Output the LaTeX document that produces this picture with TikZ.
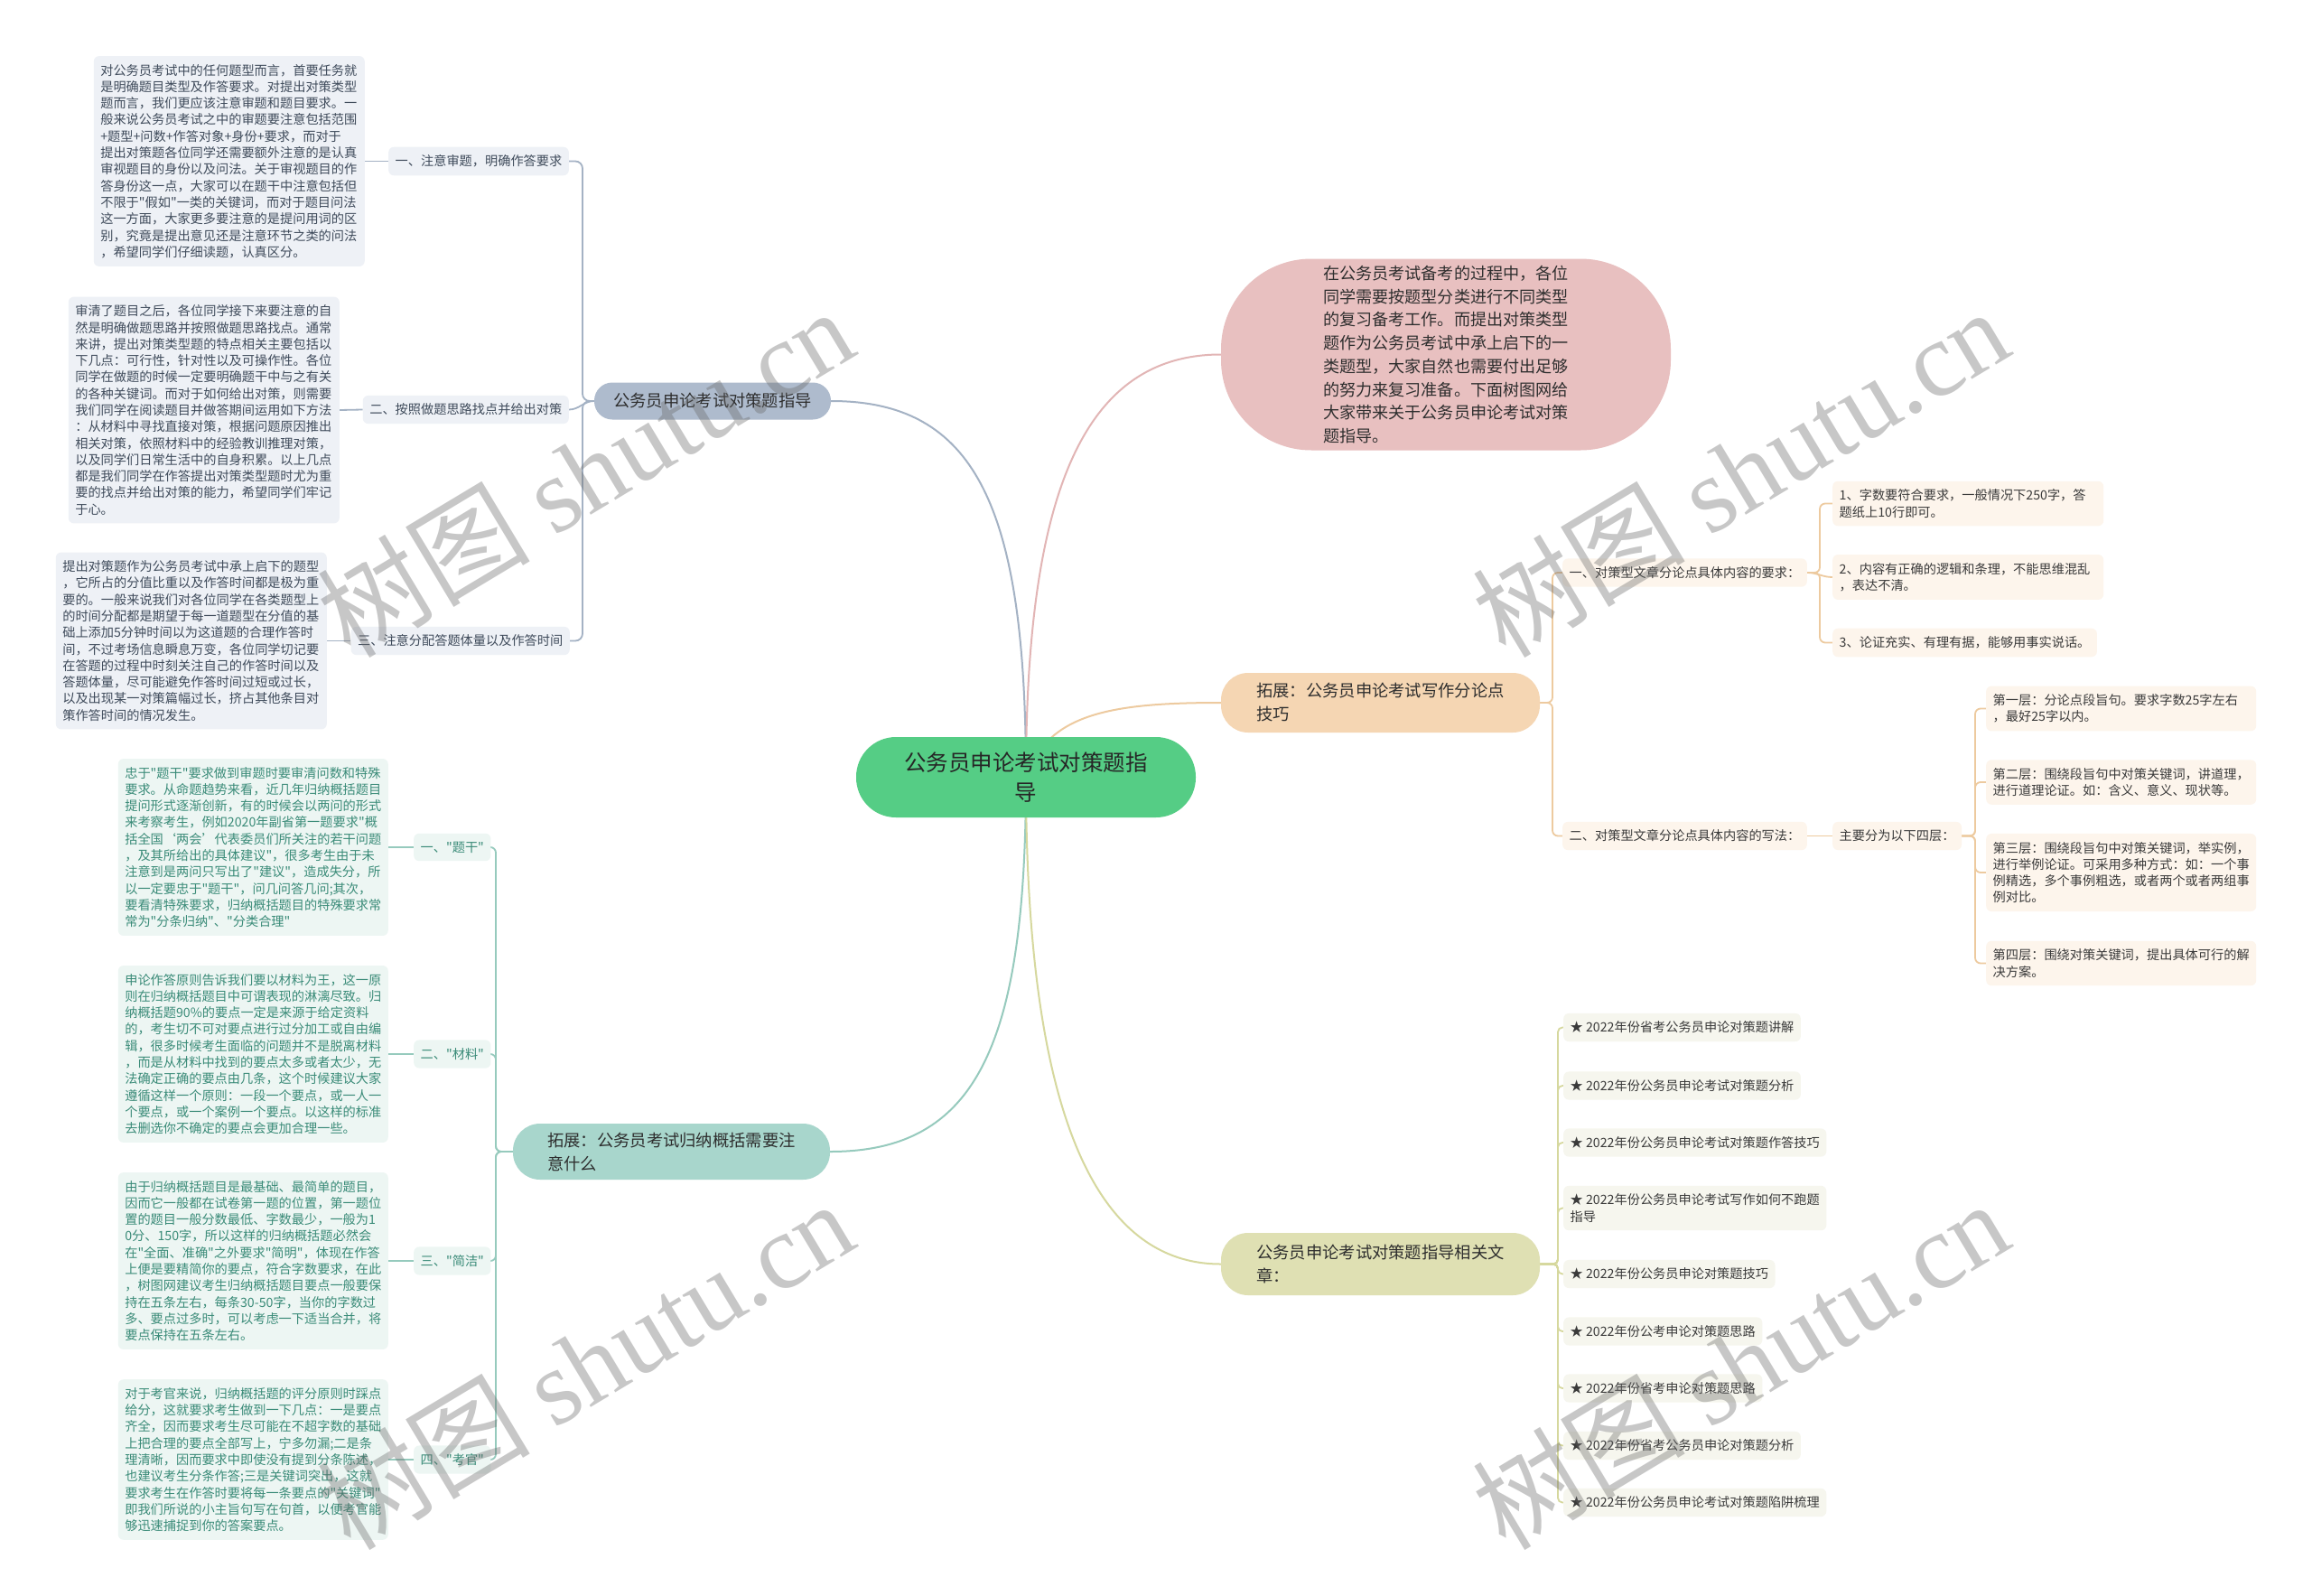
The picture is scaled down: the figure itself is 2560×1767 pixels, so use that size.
\documentclass[tikz,border=0pt]{standalone}
\usepackage{fontspec}
\setmainfont{Noto Sans CJK SC}[Ligatures=TeXOff]
\newfontfamily\wmserif{Liberation Serif}
\pgfdeclarelayer{bg}
\pgfsetlayers{bg,main}
\definecolor{ctrFill}{HTML}{55CD85}
\definecolor{gbMain}{HTML}{AEBBCD}
\definecolor{pinkMain}{HTML}{E8C0C0}
\definecolor{pcMain}{HTML}{F5D6B3}
\definecolor{olMain}{HTML}{DFE0B3}
\definecolor{tealMain}{HTML}{A8D6CC}
\definecolor{gbLine}{HTML}{A4B2C4}
\definecolor{pinkLine}{HTML}{E2B5B5}
\definecolor{pcLine}{HTML}{EDCA9F}
\definecolor{olLine}{HTML}{D6D89E}
\definecolor{tealLine}{HTML}{96CABD}
\definecolor{gbFill}{HTML}{EEF1F6}
\definecolor{gbText}{HTML}{3F4B5B}
\definecolor{tealFill}{HTML}{EDF6F3}
\definecolor{tealText}{HTML}{3A8B78}
\definecolor{pcFill}{HTML}{FDF5EC}
\definecolor{olFill}{HTML}{F6F6EE}
\definecolor{subText}{HTML}{3A3A3A}
\definecolor{mainText}{HTML}{2E2E2E}
\tikzset{
  sub/.style={rounded corners=6pt, inner xsep=7.5pt, inner ysep=9pt, align=left,
    font=\fontsize{14.2}{18.3}\selectfont},
  gbbox/.style={sub, fill=gbFill, text=gbText},
  tlbox/.style={sub, fill=tealFill, text=tealText},
  pcbox/.style={sub, fill=pcFill, text=subText},
  olbox/.style={sub, fill=olFill, text=subText},
  mainnode/.style={align=left, inner sep=0pt, text=mainText,
    font=\fontsize{18.3}{26}\selectfont},
  mline/.style={line width=2pt},
  gbl/.style={draw=gbLine, line width=1.8pt, rounded corners=8pt},
  tll/.style={draw=tealLine, line width=1.8pt, rounded corners=6pt},
  pcl/.style={draw=pcLine, line width=1.8pt, rounded corners=6pt},
  oll/.style={draw=olLine, line width=1.8pt, rounded corners=5pt},
  wm/.style={text=black!60, text opacity=0.36, inner sep=0pt,
    font=\fontsize{118}{118}\selectfont, rotate=31},
}
\begin{document}
\begin{tikzpicture}[x=1pt,y=-1pt]
\useasboundingbox (0,0) rectangle (2560,1767);

% ---------- main nodes ----------
\node[mainnode, fill=ctrFill, rounded corners=44pt, minimum width=376pt, minimum height=89pt,
  align=center, text=black!85, font=\fontsize{24.5}{33}\selectfont] (ctr) at (1136,860.5)
  {公务员申论考试对策题指\\导};
\node[mainnode, fill=gbMain, rounded corners=20pt, minimum width=262pt, minimum height=41pt]
  (m1) at (789,444) {公务员申论考试对策题指导};
\node[mainnode, fill=pinkMain, rounded corners=100pt, minimum width=498pt, minimum height=212pt,
  font=\fontsize{18.1}{25.7}\selectfont] (m2) at (1601,392.5)
  {在公务员考试备考的过程中，各位\\同学需要按题型分类进行不同类型\\的复习备考工作。而提出对策类型\\题作为公务员考试中承上启下的一\\类题型，大家自然也需要付出足够\\的努力来复习准备。下面树图网给\\大家带来关于公务员申论考试对策\\题指导。};
\node[mainnode, fill=pcMain, rounded corners=30pt, minimum width=353pt, minimum height=66pt]
  (m3) at (1528.5,778) {拓展：公务员申论考试写作分论点\\技巧};
\node[mainnode, fill=olMain, rounded corners=30pt, minimum width=353pt, minimum height=69pt]
  (m4) at (1528.5,1399.5) {公务员申论考试对策题指导相关文\\章：};
\node[mainnode, fill=tealMain, rounded corners=30pt, minimum width=351pt, minimum height=62pt]
  (m5) at (743.5,1275) {拓展：公务员考试归纳概括需要注\\意什么};

% ---------- left top ----------
\node[gbbox, text width=285pt, anchor=east] (t1) at (404,178.5)
  {对公务员考试中的任何题型而言，首要任务就\\是明确题目类型及作答要求。对提出对策类型\\题而言，我们更应该注意审题和题目要求。一\\般来说公务员考试之中的审题要注意包括范围\\+题型+问数+作答对象+身份+要求，而对于\\提出对策题各位同学还需要额外注意的是认真\\审视题目的身份以及问法。关于审视题目的作\\答身份这一点，大家可以在题干中注意包括但\\不限于"假如"一类的关键词，而对于题目问法\\这一方面，大家更多要注意的是提问用词的区\\别，究竟是提出意见还是注意环节之类的问法\\，希望同学们仔细读题，认真区分。};
\node[gbbox, anchor=east] (l1) at (630,178.5) {一、注意审题，明确作答要求};
\node[gbbox, text width=285pt, anchor=east] (t2) at (376,454)
  {审清了题目之后，各位同学接下来要注意的自\\然是明确做题思路并按照做题思路找点。通常\\来讲，提出对策类型题的特点相关主要包括以\\下几点：可行性，针对性以及可操作性。各位\\同学在做题的时候一定要明确题干中与之有关\\的各种关键词。而对于如何给出对策，则需要\\我们同学在阅读题目并做答期间运用如下方法\\：从材料中寻找直接对策，根据问题原因推出\\相关对策，依照材料中的经验教训推理对策，\\以及同学们日常生活中的自身积累。以上几点\\都是我们同学在作答提出对策类型题时尤为重\\要的找点并给出对策的能力，希望同学们牢记\\于心。};
\node[gbbox, anchor=east] (l2) at (630,453.5) {二、按照做题思路找点并给出对策};
\node[gbbox, text width=285pt, anchor=east] (t3) at (362,709.5)
  {提出对策题作为公务员考试中承上启下的题型\\，它所占的分值比重以及作答时间都是极为重\\要的。一般来说我们对各位同学在各类题型上\\的时间分配都是期望于每一道题型在分值的基\\础上添加5分钟时间以为这道题的合理作答时\\间，不过考场信息瞬息万变，各位同学切记要\\在答题的过程中时刻关注自己的作答时间以及\\答题体量，尽可能避免作答时间过短或过长，\\以及出现某一对策篇幅过长，挤占其他条目对\\策作答时间的情况发生。};
\node[gbbox, anchor=east] (l3) at (631,709.5) {三、注意分配答题体量以及作答时间};

% ---------- left bottom ----------
\node[tlbox, text width=284pt, anchor=east] (t4) at (430,938)
  {忠于"题干"要求做到审题时要审清问数和特殊\\要求。从命题趋势来看，近几年归纳概括题目\\提问形式逐渐创新，有的时候会以两问的形式\\来考察考生，例如2020年副省第一题要求"概\\括全国‘两会’代表委员们所关注的若干问题\\，及其所给出的具体建议"，很多考生由于未\\注意到是两问只写出了"建议"，造成失分，所\\以一定要忠于"题干"，问几问答几问;其次，\\要看清特殊要求，归纳概括题目的特殊要求常\\常为"分条归纳"、"分类合理"};
\node[tlbox, anchor=west] (l4) at (458,938) {一、"题干"};
\node[tlbox, text width=284pt, anchor=east] (t5) at (430,1167)
  {申论作答原则告诉我们要以材料为王，这一原\\则在归纳概括题目中可谓表现的淋漓尽致。归\\纳概括题90\%的要点一定是来源于给定资料\\的，考生切不可对要点进行过分加工或自由编\\辑，很多时候考生面临的问题并不是脱离材料\\，而是从材料中找到的要点太多或者太少，无\\法确定正确的要点由几条，这个时候建议大家\\遵循这样一个原则：一段一个要点，或一人一\\个要点，或一个案例一个要点。以这样的标准\\去删选你不确定的要点会更加合理一些。};
\node[tlbox, anchor=west] (l5) at (458,1167) {二、"材料"};
\node[tlbox, text width=284pt, anchor=east] (t6) at (430,1396)
  {由于归纳概括题目是最基础、最简单的题目，\\因而它一般都在试卷第一题的位置，第一题位\\置的题目一般分数最低、字数最少，一般为1\\0分、150字，所以这样的归纳概括题必然会\\在"全面、准确"之外要求"简明"，体现在作答\\上便是要精简你的要点，符合字数要求，在此\\，树图网建议考生归纳概括题目要点一般要保\\持在五条左右，每条30-50字，当你的字数过\\多、要点过多时，可以考虑一下适当合并，将\\要点保持在五条左右。};
\node[tlbox, anchor=west] (l6) at (458,1396) {三、"简洁"};
\node[tlbox, text width=284pt, anchor=east] (t7) at (430,1616)
  {对于考官来说，归纳概括题的评分原则时踩点\\给分，这就要求考生做到一下几点：一是要点\\齐全，因而要求考生尽可能在不超字数的基础\\上把合理的要点全部写上，宁多勿漏;二是条\\理清晰，因而要求中即使没有提到分条陈述，\\也建议考生分条作答;三是关键词突出，这就\\要求考生在作答时要将每一条要点的"关键词"\\即我们所说的小主旨句写在句首，以便考官能\\够迅速捕捉到你的答案要点。};
\node[tlbox, anchor=west] (l7) at (458,1616) {四、"考官"};

% ---------- right peach ----------
\node[pcbox, anchor=west] (r1) at (1730,634) {一、对策型文章分论点具体内容的要求：};
\node[pcbox, text width=285pt, anchor=west] (r11) at (2029,557.5) {1、字数要符合要求，一般情况下250字，答\\题纸上10行即可。};
\node[pcbox, text width=285pt, anchor=west] (r12) at (2029,639) {2、内容有正确的逻辑和条理，不能思维混乱\\，表达不清。};
\node[pcbox, anchor=west] (r13) at (2029,711.5) {3、论证充实、有理有据，能够用事实说话。};
\node[pcbox, anchor=west] (r2) at (1730,925.5) {二、对策型文章分论点具体内容的写法：};
\node[pcbox, anchor=west] (r21) at (2029,925.5) {主要分为以下四层：};
\node[pcbox, text width=284pt, anchor=west] (r211) at (2199,784.5) {第一层：分论点段旨句。要求字数25字左右\\，最好25字以内。};
\node[pcbox, text width=284pt, anchor=west] (r212) at (2199,866) {第二层：围绕段旨句中对策关键词，讲道理，\\进行道理论证。如：含义、意义、现状等。};
\node[pcbox, text width=284pt, anchor=west] (r213) at (2199,966) {第三层：围绕段旨句中对策关键词，举实例，\\进行举例论证。可采用多种方式：如：一个事\\例精选，多个事例粗选，或者两个或者两组事\\例对比。};
\node[pcbox, text width=284pt, anchor=west] (r214) at (2199,1066.5) {第四层：围绕对策关键词，提出具体可行的解\\决方案。};

% ---------- right olive ----------
\node[olbox, anchor=west] (o1) at (1731,1137.5) {★ 2022年份省考公务员申论对策题讲解};
\node[olbox, anchor=west] (o2) at (1731,1202) {★ 2022年份公务员申论考试对策题分析};
\node[olbox, anchor=west] (o3) at (1731,1265) {★ 2022年份公务员申论考试对策题作答技巧};
\node[olbox, anchor=west] (o4) at (1731,1337.5) {★ 2022年份公务员申论考试写作如何不跑题\\指导};
\node[olbox, anchor=west] (o5) at (1731,1410.5) {★ 2022年份公务员申论对策题技巧};
\node[olbox, anchor=west] (o6) at (1731,1474) {★ 2022年份公考申论对策题思路};
\node[olbox, anchor=west] (o7) at (1731,1537) {★ 2022年份省考申论对策题思路};
\node[olbox, anchor=west] (o8) at (1731,1600.5) {★ 2022年份省考公务员申论对策题分析};
\node[olbox, anchor=west] (o9) at (1731,1663.5) {★ 2022年份公务员申论考试对策题陷阱梳理};

% ---------- connectors ----------
\begin{pgfonlayer}{bg}
\fill[white] (0,0) rectangle (2560,1767);
\draw[mline, draw=gbLine] (m1.east) .. controls (1080,444) and (1136,560) .. (ctr.center);
\draw[mline, draw=pinkLine] (m2.west) .. controls (1200,392.5) and (1136,545) .. (ctr.center);
\draw[mline, draw=pcLine] (m3.west) .. controls (1230,778) and (1160,790) .. (ctr.center);
\draw[mline, draw=tealLine] (m5.east) .. controls (1080,1275) and (1136,1160) .. (ctr.center);
\draw[mline, draw=olLine] (m4.west) .. controls (1200,1399.5) and (1136,1200) .. (ctr.center);

\draw[gbl] (m1.west) -- (645,444) |- (l1.east);
\draw[gbl] (m1.west) to[out=180,in=0] (l2.east);
\draw[gbl] (m1.west) -- (645,444) |- (l3.east);
\draw[gbl] (t1.east) -- (l1.west);
\draw[gbl] (t2.east) -- (l2.west);
\draw[gbl] (t3.east) -- (l3.west);

\foreach \c in {l4,l5,l6,l7}{\draw[tll] (m5.west) -- (549,1275) |- (\c.east);}
\draw[tll] (t4.east) -- (l4.west);
\draw[tll] (t5.east) -- (l5.west);
\draw[tll] (t6.east) -- (l6.west);
\draw[tll] (t7.east) -- (l7.west);

\draw[pcl] (m3.east) -- (1719,778) |- (r1.west);
\draw[pcl] (m3.east) -- (1719,778) |- (r2.west);
\draw[pcl] (r1.east) -- (2015,634) |- (r11.west);
\draw[pcl] (r1.east) to[out=0,in=180] (r12.west);
\draw[pcl] (r1.east) -- (2015,634) |- (r13.west);
\draw[pcl] (r2.east) -- (r21.west);
\foreach \c in {r211,r212,r213,r214}{\draw[pcl] (r21.east) -- (2187,925.5) |- (\c.west);}

\foreach \c in {o1,o2,o3,o4,o5,o6,o7,o8,o9}{\draw[oll] (m4.east) -- (1725,1399.5) |- (\c.west);}
\end{pgfonlayer}

% ---------- watermarks ----------
\node[wm] (w1) at (648,522) {树图 {\wmserif shutu.cn}};
\node[wm] (w2) at (1927,522) {树图 {\wmserif shutu.cn}};
\node[wm] (w3) at (648,1510) {树图 {\wmserif shutu.cn}};
\node[wm] (w4) at (1927,1510) {树图 {\wmserif shutu.cn}};
\end{tikzpicture}
\end{document}
